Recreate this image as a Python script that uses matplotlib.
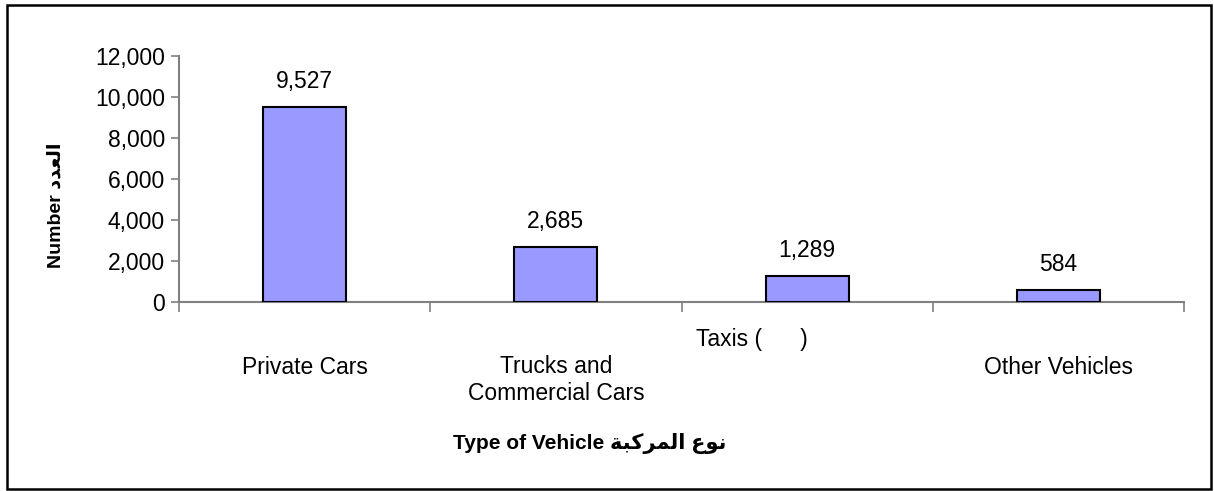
import matplotlib.pyplot as plt
import matplotlib.patches as patches
from matplotlib.transforms import ScaledTranslation

plt.rcParams['font.family'] = ['Liberation Sans', 'DejaVu Sans']

categories = ['Private Cars', 'Trucks and\nCommercial Cars', 'Taxis (      )', 'Other Vehicles']
counts = [9527, 2685, 1289, 584]
yticks = [0, 2000, 4000, 6000, 8000, 10000, 12000]

# arabic text pre-shaped (presentation forms, visual order)
ar_number = '\ufea9\ufeaa\ufecc\ufedf\ufe8d'
ar_type = '\ufe94\ufe92\ufedb\ufeae\ufee4\ufedf\ufe8d \ufec9\ufeee\ufee7'

fig = plt.figure(figsize=(12.14, 4.91), dpi=100)
ax = fig.add_axes([179/1214, 1 - 302/491, (1184-179)/1214, (302-56)/491])

x = range(len(categories))
bars = ax.bar(x, counts, width=0.33, color='#9999FF', edgecolor='black', linewidth=1.5, zorder=3)
for b, v in zip(bars, counts):
    ax.annotate(f'{v:,}', (b.get_x() + b.get_width()/2, v), xytext=(0, 10),
                textcoords='offset points', ha='center', va='bottom', fontsize=16.5)

ax.set_xlim(-0.5, len(categories) - 0.5)
ax.set_ylim(0, 12000)
ax.set_yticks(yticks)
ax.set_yticklabels([f'{t:,}' for t in yticks], fontsize=16.5)

ax.set_xticks([i - 0.5 for i in range(len(categories) + 1)])
ax.set_xticklabels([])
ax.set_xticks(list(x), minor=True)
ax.set_xticklabels(categories, minor=True, fontsize=16.5, va='center', linespacing=1.2)
ax.tick_params(axis='x', which='minor', length=0, pad=47)
ax.tick_params(axis='x', which='major', length=7, color='#808080', width=1.2)
ax.tick_params(axis='y', length=6, color='#808080', width=1.2, pad=4)

# taxis label sits higher and to the left in the original
for lbl in ax.get_xticklabels(minor=True):
    if lbl.get_text().startswith('Taxis'):
        lbl.set_transform(lbl.get_transform() + ScaledTranslation(-0.55, 0.28, fig.dpi_scale_trans))
    if lbl.get_text().startswith('Trucks'):
        lbl.set_transform(lbl.get_transform() + ScaledTranslation(0, -0.13, fig.dpi_scale_trans))

for s in ['top', 'right']:
    ax.spines[s].set_visible(False)
for s in ['left', 'bottom']:
    ax.spines[s].set_color('#808080')
    ax.spines[s].set_linewidth(1.5)

fig.text(56/1214, 1 - 205/491, 'Number ' + ar_number, rotation=90, ha='center', va='center',
         fontsize=14, fontweight='bold')
fig.text(590/1214, 1 - 443/491, 'Type of Vehicle ' + ar_type, ha='center', va='center',
         fontsize=15, fontweight='bold')

fig.patches.append(patches.Rectangle((7/1214, 1 - 489/491), (1211-7)/1214, (489-5)/491,
                                     transform=fig.transFigure, fill=False, edgecolor='black',
                                     linewidth=1.8))

fig.savefig('out.png', dpi=100)
